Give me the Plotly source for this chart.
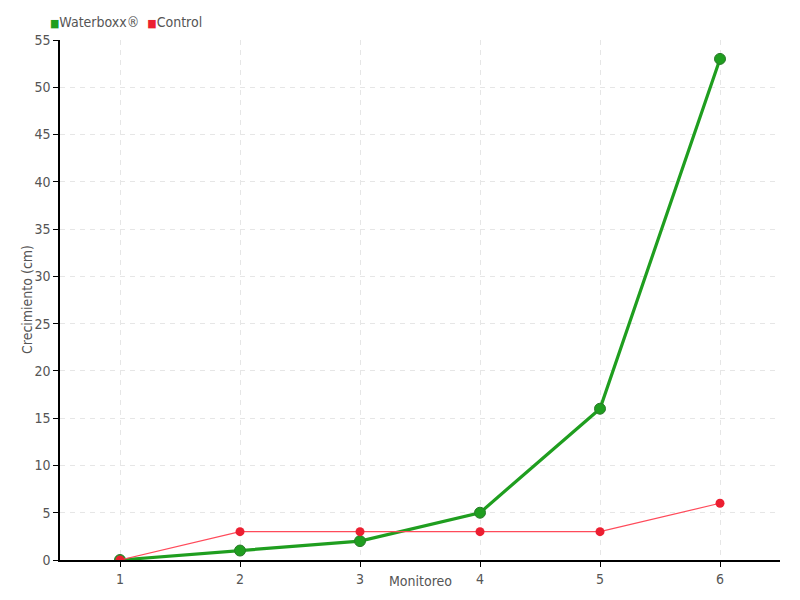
import plotly.graph_objects as go

monitoreo = [1, 2, 3, 4, 5, 6]
waterboxx = [0, 1, 2, 5, 16, 53]
control = [0, 3, 3, 3, 3, 6]
series_names = ["Waterboxx®", "Control"]
x_title = "Monitoreo"
y_title = "Crecimiento (cm)"

FONT = "Liberation Sans Narrow, DejaVu Sans Condensed, Roboto, sans-serif"
GREEN = "#1f9e1f"
RED = "#ec1f31"

fig = go.Figure()
fig.add_trace(go.Scatter(
    x=monitoreo, y=waterboxx, name=series_names[0], mode="lines+markers",
    showlegend=False,
    line=dict(color=GREEN, width=3.2),
    marker=dict(color=GREEN, size=11, symbol="circle",
                line=dict(color="#2a7a2a", width=1)),
))
fig.add_trace(go.Scatter(
    x=monitoreo, y=control, name=series_names[1], mode="lines+markers",
    showlegend=False,
    line=dict(color="#ff4a5a", width=1.2),
    marker=dict(color=RED, size=9, symbol="circle"),
))

legend_text = (f"<span style='color:{GREEN};font-size:11px'>■</span>{series_names[0]}  "
               f"<span style='color:{RED};font-size:11px'>■</span>{series_names[1]}")
fig.add_annotation(text=legend_text, xref="paper", yref="paper",
                   x=-0.016, y=1.0, xanchor="left", yanchor="bottom",
                   yshift=8, showarrow=False,
                   font=dict(family=FONT, size=14, color="#555555"))
fig.add_annotation(text=x_title, xref="paper", yref="paper",
                   x=0.5, y=0, xanchor="center", yanchor="middle",
                   yshift=-21, showarrow=False,
                   font=dict(family=FONT, size=14, color="#555555"))
fig.add_annotation(text=y_title, xref="paper", yref="paper",
                   x=0, y=0.5, xanchor="center", yanchor="middle",
                   xshift=-33, textangle=-90, showarrow=False,
                   font=dict(family=FONT, size=14, color="#555555"))

fig.update_layout(
    width=800, height=600,
    margin=dict(l=52, r=28, t=32, b=48, autoexpand=False),
    paper_bgcolor="white", plot_bgcolor="white",
    font=dict(family=FONT, size=14, color="#555555"),
    showlegend=False,
    xaxis=dict(
        range=[0.5, 6.5], tickmode="array", tickvals=monitoreo,
        showline=True, linecolor="black", linewidth=1.5,
        ticks="outside", ticklen=5, tickcolor="black",
        showgrid=True, gridcolor="#e6e6e6", griddash="5px,5px", zeroline=False,
    ),
    yaxis=dict(
        range=[0, 55], tickmode="linear", tick0=0, dtick=5,
        showline=True, linecolor="black", linewidth=1.5,
        ticks="outside", ticklen=5, tickcolor="black",
        showgrid=True, gridcolor="#e6e6e6", griddash="5px,5px", zeroline=False,
    ),
)

fig.write_html("out.html")
